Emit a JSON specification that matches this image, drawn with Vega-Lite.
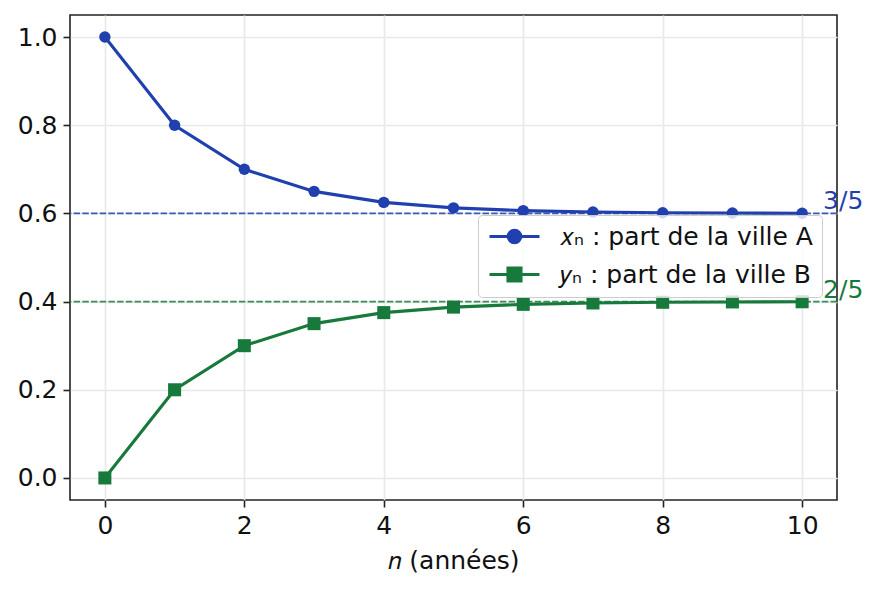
{
  "$schema": "https://vega.github.io/schema/vega-lite/v6.json",
  "width": 767,
  "height": 485,
  "autosize": "none",
  "padding": {"left": 70, "top": 15, "right": 41, "bottom": 89},
  "background": "white",
  "datasets": {
    "pts": [
      {"n": 0, "v": 1, "s": "x"},
      {"n": 1, "v": 0.8, "s": "x"},
      {"n": 2, "v": 0.7, "s": "x"},
      {"n": 3, "v": 0.65, "s": "x"},
      {"n": 4, "v": 0.625, "s": "x"},
      {"n": 5, "v": 0.6125, "s": "x"},
      {"n": 6, "v": 0.60625, "s": "x"},
      {"n": 7, "v": 0.603125, "s": "x"},
      {"n": 8, "v": 0.6015625, "s": "x"},
      {"n": 9, "v": 0.60078125, "s": "x"},
      {"n": 10, "v": 0.600390625, "s": "x"},
      {"n": 0, "v": 0, "s": "y"},
      {"n": 1, "v": 0.2, "s": "y"},
      {"n": 2, "v": 0.3, "s": "y"},
      {"n": 3, "v": 0.35, "s": "y"},
      {"n": 4, "v": 0.375, "s": "y"},
      {"n": 5, "v": 0.3875, "s": "y"},
      {"n": 6, "v": 0.39375, "s": "y"},
      {"n": 7, "v": 0.396875, "s": "y"},
      {"n": 8, "v": 0.3984375, "s": "y"},
      {"n": 9, "v": 0.39921875, "s": "y"},
      {"n": 10, "v": 0.399609375, "s": "y"}
    ],
    "refs": [
      {"v": 0.6, "s": "x", "lab": "3/5"},
      {"v": 0.4, "s": "y", "lab": "2/5"}
    ]
  },
  "layer": [
    {
      "data": {"name": "refs"},
      "mark": {"type": "rule", "strokeDash": [6.5, 2.2], "strokeWidth": 1.6, "opacity": 0.85},
      "encoding": {
        "y": {"field": "v", "type": "quantitative"},
        "color": {"field": "s", "type": "nominal"}
      }
    },
    {
      "data": {"name": "pts"},
      "mark": {"type": "line", "strokeWidth": 3.1},
      "encoding": {
        "x": {"field": "n", "type": "quantitative"},
        "y": {"field": "v", "type": "quantitative"},
        "color": {
          "field": "s", "type": "nominal",
          "legend": {
            "orient": "none",
            "legendX": 408,
            "legendY": 200,
            "title": null,
            "labelExpr": "datum.value == 'x' ? '𝑥ₙ : part de la ville A' : '𝑦ₙ : part de la ville B'",
            "labelLimit": 0,
            "symbolSize": 400,
            "encode": {
              "symbols": {
                "update": {
                  "shape": {"signal": "datum.value == 'x' ? 'M-1,0H4M2.125,0A0.625,0.625,0,1,1,0.875,0A0.625,0.625,0,1,1,2.125,0Z' : 'M-1,0H4M0.85,-0.65H2.15V0.65H0.85Z'"},
                  "fill": {"signal": "datum.value == 'x' ? '#1f40ae' : '#177a3c'"},
                  "stroke": {"signal": "datum.value == 'x' ? '#1f40ae' : '#177a3c'"},
                  "strokeWidth": {"value": 3.1},
                  "opacity": {"value": 1}
                }
              }
            }
          }
        }
      }
    },
    {
      "data": {"name": "pts"},
      "transform": [{"filter": "datum.s == 'x'"}],
      "mark": {"type": "point", "shape": "circle", "filled": true, "opacity": 1, "size": 130},
      "encoding": {
        "x": {"field": "n", "type": "quantitative"},
        "y": {"field": "v", "type": "quantitative"},
        "color": {"field": "s", "type": "nominal"}
      }
    },
    {
      "data": {"name": "pts"},
      "transform": [{"filter": "datum.s == 'y'"}],
      "mark": {"type": "point", "shape": "square", "filled": true, "opacity": 1, "size": 170},
      "encoding": {
        "x": {"field": "n", "type": "quantitative"},
        "y": {"field": "v", "type": "quantitative"},
        "color": {"field": "s", "type": "nominal"}
      }
    },
    {
      "data": {"name": "refs"},
      "mark": {"type": "text", "align": "left", "baseline": "middle", "dy": -12, "fontSize": 25, "font": "DejaVu Sans"},
      "encoding": {
        "x": {"datum": 10.3, "type": "quantitative"},
        "y": {"field": "v", "type": "quantitative"},
        "text": {"field": "lab"},
        "color": {"field": "s", "type": "nominal"}
      }
    }
  ],
  "encoding": {
    "x": {
      "type": "quantitative",
      "scale": {"domain": [-0.5, 10.5], "nice": false, "zero": false},
      "axis": {"values": [0, 2, 4, 6, 8, 10], "title": "𝑛 (années)", "format": "d"}
    },
    "y": {
      "type": "quantitative",
      "scale": {"domain": [-0.05, 1.05], "nice": false, "zero": false},
      "axis": {"values": [0, 0.2, 0.4, 0.6, 0.8, 1.0], "title": null, "format": ".1f"}
    },
    "color": {
      "type": "nominal",
      "scale": {"domain": ["x", "y"], "range": ["#1f40ae", "#177a3c"]}
    }
  },
  "config": {
    "font": "DejaVu Sans",
    "view": {"stroke": "#222222", "strokeWidth": 1.6},
    "axis": {
      "domain": false,
      "labelFont": "DejaVu Sans",
      "labelFontSize": 25,
      "labelColor": "#111111",
      "labelPadding": 6,
      "tickColor": "#222222",
      "tickSize": 7,
      "tickWidth": 1.6,
      "gridColor": "#e8e8e8",
      "gridWidth": 1.6,
      "titleFont": "DejaVu Sans",
      "titleFontSize": 25,
      "titleFontWeight": "normal",
      "titleColor": "#111111",
      "titlePadding": 10
    },
    "legend": {
      "labelFont": "DejaVu Sans",
      "labelFontSize": 25,
      "labelColor": "#111111",
      "fillColor": "rgba(255,255,255,0.8)",
      "strokeColor": "#cccccc",
      "cornerRadius": 4,
      "padding": 9,
      "rowPadding": 11,
      "labelOffset": 48
    }
  }
}
